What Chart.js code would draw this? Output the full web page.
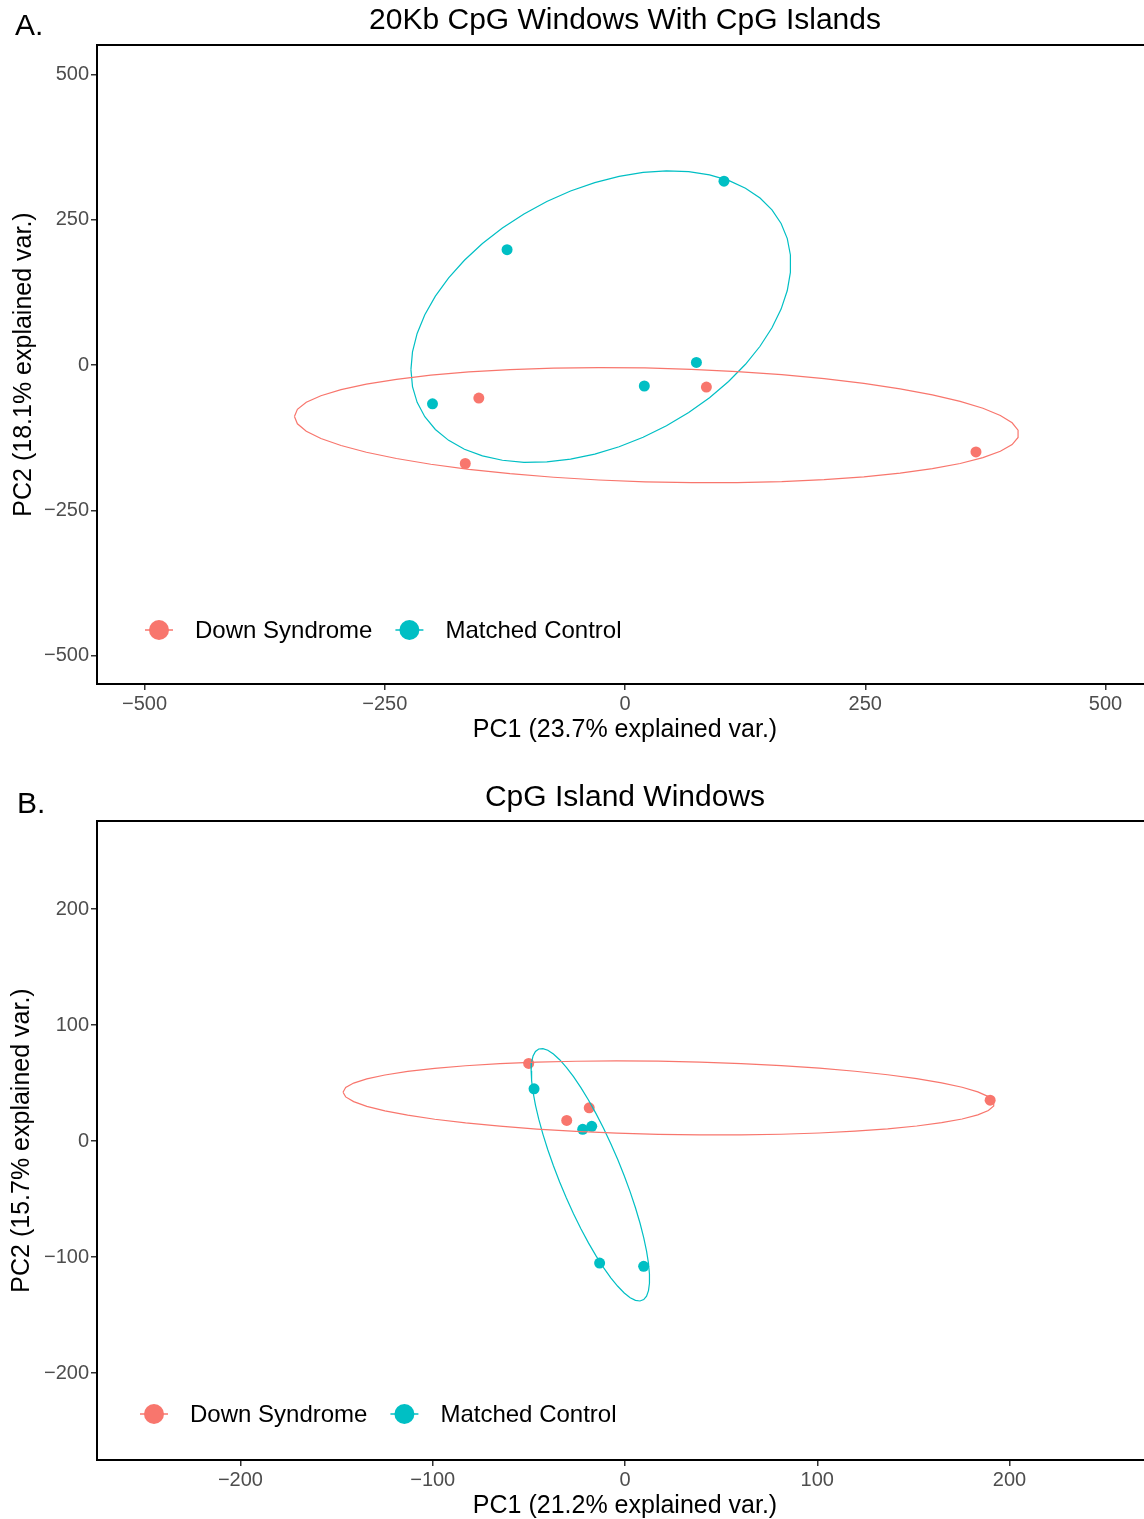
<!DOCTYPE html>
<html>
<head>
<meta charset="utf-8">
<script src="https://cdn.jsdelivr.net/npm/chart.js@4.4.0/dist/chart.umd.min.js"></script>
<style>
  body { margin: 0; background: #fff; }
  .panel { position: relative; width: 1144px; overflow: hidden; }
  canvas { display: block; }
</style>
</head>
<body>
<div class="panel" style="height:760px"><canvas id="chartA" width="1153" height="760" style="width:1153px;height:760px"></canvas></div>
<div class="panel" style="height:759px"><canvas id="chartB" width="1153" height="759" style="width:1153px;height:759px"></canvas></div>
<script>
const groups = ['Down Syndrome', 'Matched Control'];
const groupColors = ['#F8766D', '#00BFC4'];

// A. 20Kb CpG windows with CpG islands
const downA_pc1 = [-152.1, 84.7, -166.2, 365.2];
const downA_pc2 = [-56.8, -37.9, -169.4, -149.5];
const ctrlA_pc1 = [103.0, -122.7, 74.3, 20.1, -200.3];
const ctrlA_pc2 = [316.5, 198.6, 4.6, -36.0, -66.6];
const ticksA_x = [-500, -250, 0, 250, 500];
const ticksA_y = [-500, -250, 0, 250, 500];

// B. CpG island windows
const downB_pc1 = [-50.1, -18.6, -30.3, 189.9];
const downB_pc2 = [67.0, 28.7, 17.8, 35.3];
const ctrlB_pc1 = [-47.3, -17.3, -22.0, -13.2, 9.7];
const ctrlB_pc2 = [45.1, 12.7, 10.1, -105.2, -108.0];
const ticksB_x = [-200, -100, 0, 100, 200];
const ticksB_y = [-200, -100, 0, 100, 200];

const fontFamily = '"Liberation Sans", Arial, Helvetica, sans-serif';

function minusLabel(v) {
  return v < 0 ? '\u2212' + Math.abs(v) : String(v);
}

function toPoints(xs, ys) {
  return xs.map((x, i) => ({x: x, y: ys[i]}));
}

// normal data ellipse like ggbiplot (ellipse.prob = 0.68)
function ellipsePath(xs, ys, prob) {
  const n = xs.length;
  const mx = xs.reduce((a, b) => a + b, 0) / n;
  const my = ys.reduce((a, b) => a + b, 0) / n;
  let sxx = 0, syy = 0, sxy = 0;
  for (let i = 0; i < n; i++) {
    sxx += (xs[i] - mx) ** 2;
    syy += (ys[i] - my) ** 2;
    sxy += (xs[i] - mx) * (ys[i] - my);
  }
  sxx /= n - 1; syy /= n - 1; sxy /= n - 1;
  const r11 = Math.sqrt(sxx);
  const r12 = sxy / r11;
  const r22 = Math.sqrt(syy - r12 * r12);
  const ed = Math.sqrt(-2 * Math.log(1 - prob));
  const pts = [];
  for (let i = 0; i < 50; i++) {
    const t = -Math.PI + 2 * Math.PI * i / 49;
    const c = Math.cos(t), s = Math.sin(t);
    pts.push({x: mx + ed * c * r11, y: my + ed * (c * r12 + s * r22)});
  }
  return pts;
}

const panelDecor = {
  id: 'panelDecor',
  afterDraw(chart, args, opts) {
    const {ctx, chartArea} = chart;
    ctx.save();
    ctx.strokeStyle = '#000';
    ctx.lineWidth = 2;
    ctx.beginPath();
    ctx.moveTo(chartArea.left - 1, chartArea.top);
    ctx.lineTo(chartArea.right, chartArea.top);
    ctx.stroke();

    ctx.fillStyle = '#000';
    ctx.textBaseline = 'middle';
    ctx.font = `30px ${fontFamily}`;
    ctx.textAlign = 'center';
    ctx.fillText(opts.title, (chartArea.left + chartArea.right) / 2, opts.titleY);
    ctx.textAlign = 'left';
    ctx.fillText(opts.tag, opts.tagX, opts.tagY);

    // legend inside the panel
    ctx.font = `24px ${fontFamily}`;
    let x = chartArea.left + opts.legendX;
    const y = chartArea.bottom - opts.legendDy;
    groups.forEach((g, i) => {
      ctx.strokeStyle = groupColors[i];
      ctx.lineWidth = 1.5;
      ctx.beginPath();
      ctx.moveTo(x - 14, y);
      ctx.lineTo(x + 14, y);
      ctx.stroke();
      ctx.fillStyle = groupColors[i];
      ctx.beginPath();
      ctx.arc(x, y, 10, 0, Math.PI * 2);
      ctx.fill();
      ctx.fillStyle = '#000';
      ctx.fillText(g, x + 36, y + 1);
      x += 36 + ctx.measureText(g).width + 37;
    });
    ctx.restore();
  }
};

function axis(range, ticks, title, fit, titlePad) {
  return {
    type: 'linear',
    min: -range[0],
    max: range[1],
    afterBuildTicks: s => { s.ticks = ticks.map(v => ({value: v})); },
    afterFit: s => {
      if (s.isHorizontal()) { s.height = fit; } else { s.width = fit; }
      s.paddingTop = 0; s.paddingBottom = 0; s.paddingLeft = 0; s.paddingRight = 0;
    },
    grid: {drawOnChartArea: false, drawTicks: true, tickLength: 6, color: '#333333', lineWidth: 1.5},
    border: {display: true, color: '#000', width: 2},
    ticks: {
      color: '#4D4D4D',
      padding: 2,
      font: {family: fontFamily, size: 20},
      callback: v => minusLabel(v)
    },
    title: {
      display: true,
      text: title,
      color: '#000',
      font: {family: fontFamily, size: 25},
      padding: titlePad
    }
  };
}

function buildPanel(id, cfg) {
  new Chart(document.getElementById(id), {
    type: 'scatter',
    data: {
      datasets: [
        {label: groups[0] + ' ellipse', data: ellipsePath(cfg.downX, cfg.downY, 0.68), showLine: true,
         borderColor: groupColors[0], borderWidth: 1.2, pointRadius: 0, fill: false, order: 0},
        {label: groups[1] + ' ellipse', data: ellipsePath(cfg.ctrlX, cfg.ctrlY, 0.68), showLine: true,
         borderColor: groupColors[1], borderWidth: 1.2, pointRadius: 0, fill: false, order: 0},
        {label: groups[0], data: toPoints(cfg.downX, cfg.downY), backgroundColor: groupColors[0],
         pointRadius: 5.5, pointBorderWidth: 0, order: 1},
        {label: groups[1], data: toPoints(cfg.ctrlX, cfg.ctrlY), backgroundColor: groupColors[1],
         pointRadius: 5.5, pointBorderWidth: 0, order: 1}
      ]
    },
    options: {
      responsive: false,
      animation: false,
      layout: {autoPadding: false, padding: {top: cfg.top, left: 0, right: 0, bottom: 0}},
      plugins: {
        legend: {display: false},
        tooltip: {enabled: false},
        panelDecor: cfg.decor
      },
      scales: {
        x: axis(cfg.xRange, cfg.xTicks, cfg.xTitle, cfg.xFit, {top: 0, bottom: cfg.xTitlePad}),
        y: axis(cfg.yRange, cfg.yTicks, cfg.yTitle, 97, {top: cfg.yTitlePad, bottom: 0})
      }
    },
    plugins: [panelDecor]
  });
}

buildPanel('chartA', {
  downX: downA_pc1, downY: downA_pc2, ctrlX: ctrlA_pc1, ctrlY: ctrlA_pc2,
  xRange: [549.4, 549.4], yRange: [549, 551], xTicks: ticksA_x, yTicks: ticksA_y,
  xTitle: 'PC1 (23.7% explained var.)', yTitle: 'PC2 (18.1% explained var.)',
  top: 45, xFit: 76, xTitlePad: 15, yTitlePad: 9,
  decor: {title: '20Kb CpG Windows With CpG Islands', titleY: 21, tag: 'A.', tagX: 15, tagY: 27, legendX: 62, legendDy: 54}
});

buildPanel('chartB', {
  downX: downB_pc1, downY: downB_pc2, ctrlX: ctrlB_pc1, ctrlY: ctrlB_pc2,
  xRange: [274.6, 274.6], yRange: [275, 276], xTicks: ticksB_x, yTicks: ticksB_y,
  xTitle: 'PC1 (21.2% explained var.)', yTitle: 'PC2 (15.7% explained var.)',
  top: 61, xFit: 59, xTitlePad: -2, yTitlePad: 7,
  decor: {title: 'CpG Island Windows', titleY: 38, tag: 'B.', tagX: 17, tagY: 45, legendX: 57, legendDy: 46}
});
</script>
</body>
</html>
